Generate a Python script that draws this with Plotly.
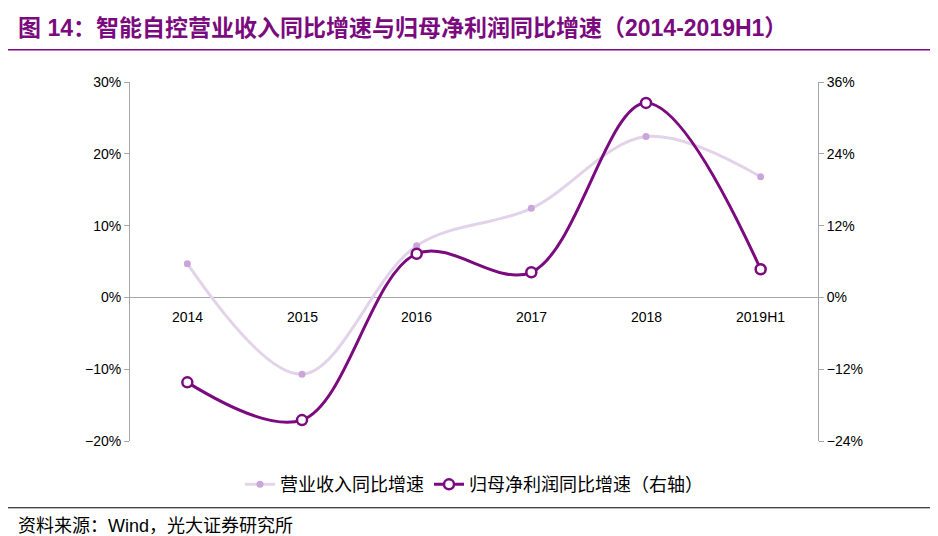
import plotly.graph_objects as go

years = ["2014", "2015", "2016", "2017", "2018", "2019H1"]
revenue_yoy = [4.7, -10.7, 7.2, 12.4, 22.4, 16.8]
profit_yoy = [-14.2, -20.5, 7.3, 4.2, 32.5, 4.7]

fig = go.Figure()
fig.add_trace(go.Scatter(
    x=years, y=revenue_yoy, name="营业收入同比增速", mode="lines+markers",
    line=dict(color="#E3D3EA", width=3, shape="spline", smoothing=1.0),
    marker=dict(color="#C9A5DA", size=7),
))
fig.add_trace(go.Scatter(
    x=years, y=profit_yoy, name="归母净利润同比增速（右轴）", mode="lines+markers",
    yaxis="y2",
    line=dict(color="#7B0A7E", width=3, shape="spline", smoothing=1.0),
    marker=dict(color="white", size=10, line=dict(color="#7B0A7E", width=2.5)),
))

for i, yr in enumerate(years):
    fig.add_annotation(x=i, y=0, text=yr, showarrow=False, yshift=-20,
                       font=dict(size=14, color="black"))

fig.update_layout(
    width=938, height=536,
    paper_bgcolor="white", plot_bgcolor="white",
    margin=dict(l=122, r=128, t=74, b=103, autoexpand=False),
    font=dict(family="Liberation Sans, Noto Sans CJK SC", size=14, color="black"),
    xaxis=dict(type="category", range=[-0.5, 5.5], showticklabels=False,
               showgrid=False, zeroline=False, showline=False),
    yaxis=dict(range=[-20, 30], dtick=10, ticksuffix="%", showgrid=False,
               zeroline=True, zerolinecolor="#A6A6A6", zerolinewidth=1,
               showline=True, linecolor="#A6A6A6", ticks="outside",
               tickcolor="#A6A6A6", ticklen=5),
    yaxis2=dict(range=[-24, 36], dtick=12, ticksuffix="%", overlaying="y",
                side="right", showgrid=False, zeroline=False, showline=True,
                linecolor="#A6A6A6", ticks="outside", tickcolor="#A6A6A6",
                ticklen=5),
    legend=dict(orientation="h", x=0.5, xanchor="center", y=-0.07, yanchor="top",
                font=dict(size=18), traceorder="normal"),
    showlegend=True,
)

fig.add_annotation(xref="paper", yref="paper", x=-0.165, y=1.15, xanchor="left",
                   yanchor="middle", showarrow=False,
                   text="<b>图 14：智能自控营业收入同比增速与归母净利润同比增速（2014-2019H1）</b>",
                   font=dict(size=23, color="#7B0A7E"))
fig.add_annotation(xref="paper", yref="paper", x=-0.165, y=-0.237, xanchor="left",
                   yanchor="middle", showarrow=False,
                   text="资料来源：Wind，光大证券研究所", font=dict(size=18))
fig.add_shape(type="line", xref="paper", yref="paper", x0=-0.18, x1=1.19,
              y0=1.09, y1=1.09, line=dict(color="#7B0A7E", width=1.5))
fig.add_shape(type="line", xref="paper", yref="paper", x0=-0.18, x1=1.19,
              y0=-0.186, y1=-0.186, line=dict(color="black", width=1))

fig.write_html("out.html")
